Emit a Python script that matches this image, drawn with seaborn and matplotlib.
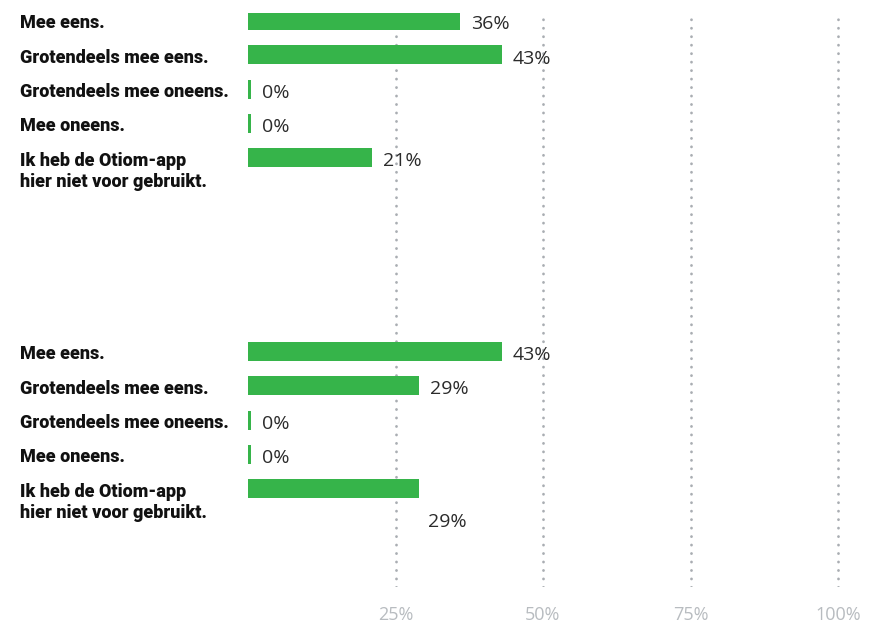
import matplotlib
matplotlib.use("Agg")
import matplotlib.pyplot as plt
import matplotlib.transforms as mtransforms
import seaborn as sns
import pandas as pd

# ---- data ----
categories = [
    "Mee eens.",
    "Grotendeels mee eens.",
    "Grotendeels mee oneens.",
    "Mee oneens.",
    "Ik heb de Otiom-app\nhier niet voor gebruikt.",
]
values_top = [36, 43, 0, 0, 21]
values_bottom = [43, 29, 0, 0, 29]
tick_values = [25, 50, 75, 100]
tick_labels = ["25%", "50%", "75%", "100%"]

# ---- style ----
GREEN = "#36b44a"
GRID = "#a9adb2"
TICKCOL = "#b8bcc0"
VALCOL = "#2b2b2b"
LABEL_FONT = ["Roboto", "DejaVu Sans"]
VALUE_FONT = ["Open Sans", "DejaVu Sans"]

sns.set_theme(style="white")
plt.rcParams["font.family"] = VALUE_FONT

W, H = 869, 624
fig = plt.figure(figsize=(W / 100, H / 100), dpi=100)


def rect(x0, y0, x1, y1):
    return [x0 / W, 1 - y1 / H, (x1 - x0) / W, (y1 - y0) / H]


ROW = 34.25      # px per row
LINE_PX = 21.5   # px between label lines
XMAX = 621 / 5.9

# background axes carrying the continuous dotted grid and the tick labels
ax_bg = fig.add_axes(rect(248, 13, 869, 587))
ax_bg.set_xlim(0, XMAX)
ax_bg.set_xticks(tick_values)
ax_bg.set_xticklabels(tick_labels, fontsize=13, color=TICKCOL, family=VALUE_FONT)
ax_bg.tick_params(axis="x", length=0, pad=14)
ax_bg.set_yticks([])
ax_bg.grid(axis="x", color=GRID, linestyle=(0, (0.05, 3.0)), linewidth=2.0,
           dash_capstyle="round")
ax_bg.grid(axis="y", visible=False)
for s in ax_bg.spines.values():
    s.set_visible(False)

ax1 = fig.add_axes(rect(248, 13, 869, 300))
ax2 = fig.add_axes(rect(248, 300, 869, 587))


def draw(ax, values, first_row_px, top_px, bottom_px, label_offsets):
    ax.patch.set_alpha(0)
    df = pd.DataFrame({"cat": categories, "val": values})
    df["shown"] = df["val"].clip(lower=0.5)  # minimum visible bar for 0%
    sns.barplot(data=df, x="shown", y="cat", order=categories, orient="h",
                color=GREEN, width=19 / ROW, saturation=1, ax=ax, zorder=3)
    for p in ax.patches:
        p.set_edgecolor("none")
    top = -(first_row_px - top_px) / ROW
    bottom = top + (bottom_px - top_px) / ROW
    ax.set_ylim(bottom, top)
    ax.set_xlim(0, XMAX)
    ax.grid(False)
    ax.set_xticks([])
    ax.set_yticks([])
    ax.set_xlabel("")
    ax.set_ylabel("")
    for s in ax.spines.values():
        s.set_visible(False)
    trans = mtransforms.blended_transform_factory(fig.transFigure, ax.transData)
    for i, (cat, v, shown) in enumerate(zip(categories, values, df["shown"])):
        n_lines = cat.count("\n") + 1
        ax.text(20 / W, i + (7.8 + (n_lines - 1) * LINE_PX) / ROW, cat,
                transform=trans, ha="left", va="baseline", fontsize=13,
                fontweight="black", color="#111111", family=LABEL_FONT,
                linespacing=1.22)
        dx, dy = label_offsets.get(i, (8, -6.3))
        ax.annotate(f"{v}%", xy=(shown, i), xytext=(dx, dy),
                    textcoords="offset points", ha="left", va="baseline",
                    fontsize=14, color=VALCOL, family=VALUE_FONT,
                    annotation_clip=False)


draw(ax1, values_top, 20.5, 13, 300, {})
draw(ax2, values_bottom, 351.5, 300, 587, {4: (6.5, -27.5)})

fig.savefig("out.png", dpi=100, facecolor="white")
